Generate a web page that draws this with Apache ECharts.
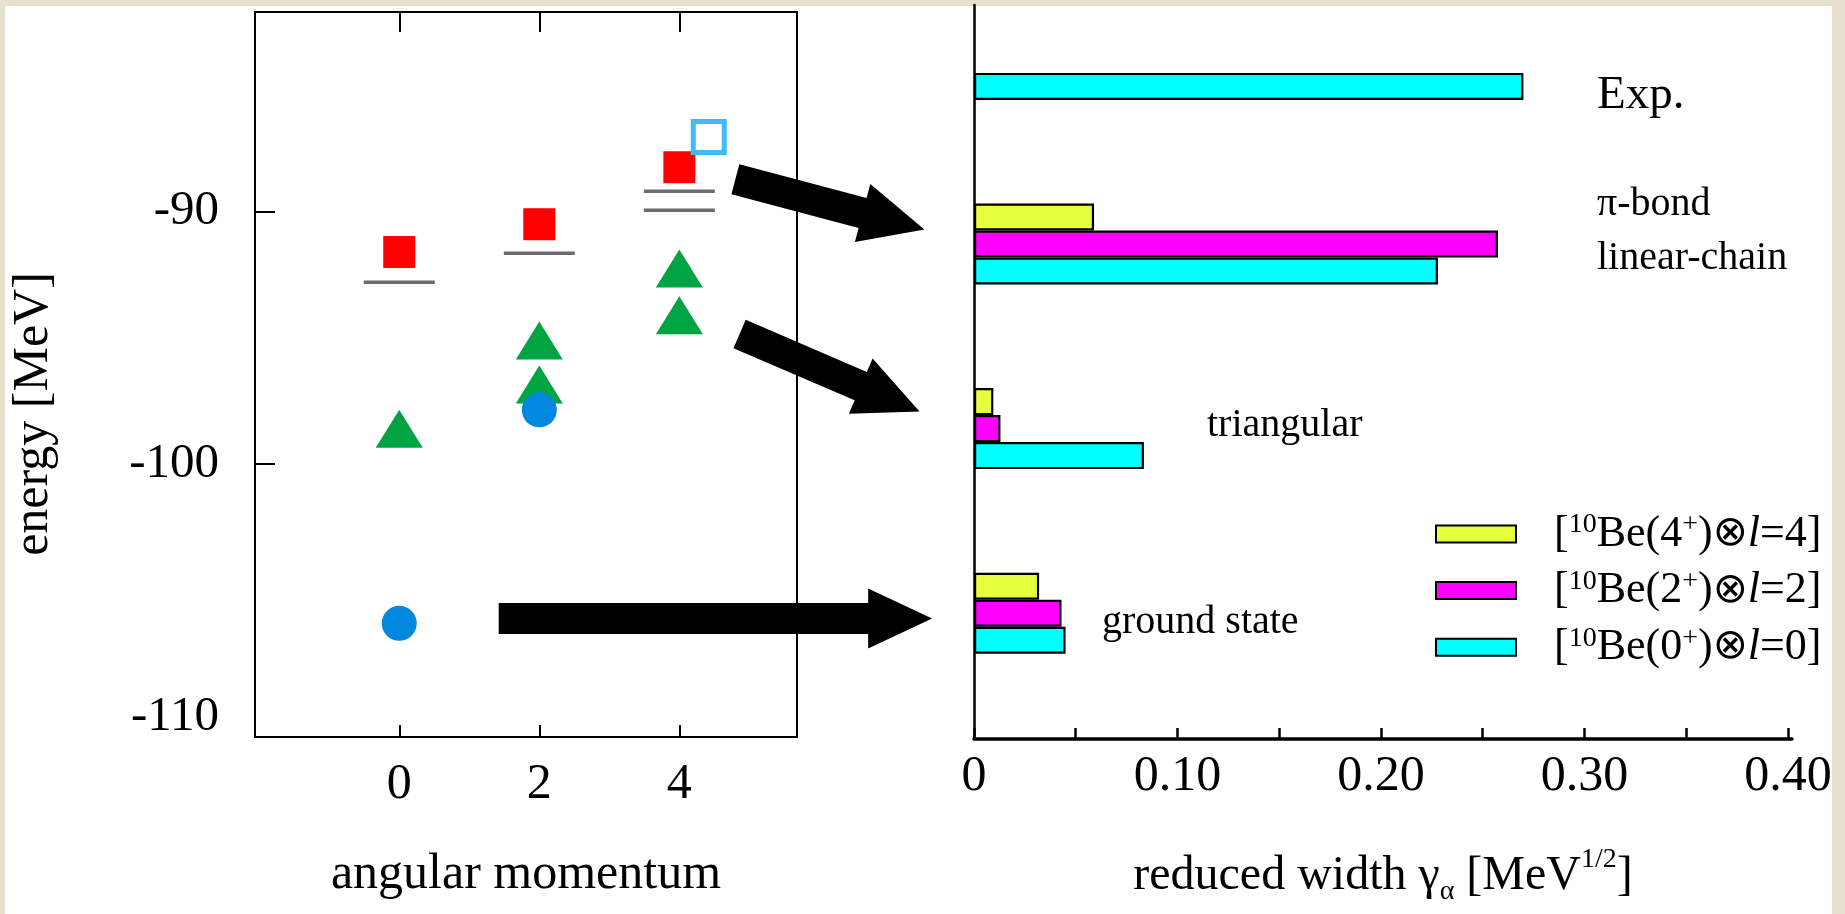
<!DOCTYPE html>
<html>
<head>
<meta charset="utf-8">
<title>Alpha reduced widths</title>
<script src="https://cdn.jsdelivr.net/npm/echarts@6/dist/echarts.min.js"></script>
<style>
  html, body { margin: 0; padding: 0; background: #e7dfcf; }
  #panel { position: absolute; left: 5px; top: 6px; width: 1827px; height: 908px; background: #ffffff; }
  #chart { position: absolute; left: 0; top: 0; width: 1845px; height: 914px; }
</style>
</head>
<body>
<div id="panel"></div>
<div id="chart"></div>
<script>
const FONT = '"Liberation Serif", "Times New Roman", Times, serif';

// ---- left panel: energy levels vs angular momentum ----
const energyTicks = [-110, -100, -90];
const energyMajorTicks = [-100, -90];
const momentumTicks = [0, 2, 4];

const linearChainL = [0, 2, 4];
const linearChainE = [-91.6, -90.5, -88.25];

const thresholdL = [0, 2, 4, 4];
const thresholdE = [-92.8, -91.65, -89.2, -89.95];

const triangularL = [0, 2, 2, 4, 4];
const triangularE = [-98.6, -95.1, -96.85, -92.25, -94.1];

const groundBandL = [0, 2];
const groundBandE = [-106.3, -97.85];

const experimentL = [4.42];
const experimentE = [-87.05];

// ---- right panel: reduced widths per state ----
const states = ['ground state', 'triangular', 'π-bond linear-chain', 'Exp.'];
const gammaL4 = [0.032, 0.0095, 0.059, null];
const gammaL2 = [0.043, 0.013, 0.2575, null];
const gammaL0 = [0.045, 0.0835, 0.228, 0.27];
const gammaLabelTicks = [0, 0.1, 0.2, 0.3, 0.4];
const gammaTicks = [0, 0.05, 0.1, 0.15, 0.2, 0.25, 0.3, 0.35, 0.4];

const channelNames = ['[10Be(4+)⊗l=4]', '[10Be(2+)⊗l=2]', '[10Be(0+)⊗l=0]'];
const channelRich = {
  '[10Be(4+)⊗l=4]': '{n|[}{s|10}{n|Be(4}{s|+}{n|)}{o|⊗}{i|l}{n|=4]}',
  '[10Be(2+)⊗l=2]': '{n|[}{s|10}{n|Be(2}{s|+}{n|)}{o|⊗}{i|l}{n|=2]}',
  '[10Be(0+)⊗l=0]': '{n|[}{s|10}{n|Be(0}{s|+}{n|)}{o|⊗}{i|l}{n|=0]}'
};

const zip = (xs, ys) => xs.map((x, i) => [x, ys[i]]);

const chart = echarts.init(document.getElementById('chart'), null, { renderer: 'canvas' });

const textBase = { fontFamily: FONT, color: '#000' };

const scatterBase = {
  type: 'scatter', xAxisIndex: 0, yAxisIndex: 0, silent: true,
  emphasis: { disabled: true }
};
const barBase = {
  type: 'bar', xAxisIndex: 3, yAxisIndex: 2, barWidth: 27, barGap: '0%', silent: true,
  clip: false, emphasis: { disabled: true }
};

chart.setOption({
  animation: false,
  backgroundColor: 'transparent',
  textStyle: { fontFamily: FONT },
  grid: [
    { left: 255, right: 1048, top: 12, bottom: 177, show: true, borderColor: '#000', borderWidth: 2, backgroundColor: 'transparent' },
    { left: 974, right: 53, top: 5, bottom: 175 },
    // state rows sit on the category ticks (boundaryGap off): top row = Exp., bottom row = ground state
    { left: 974, right: 53, top: 59.4, bottom: 300.8 }
  ],
  xAxis: [
    {
      gridIndex: 0, type: 'value', min: -2.06, max: 5.68, position: 'bottom',
      axisLine: { show: false, onZero: false },
      axisTick: { inside: true, length: 12, customValues: momentumTicks, lineStyle: { color: '#000', width: 2 } },
      axisLabel: { customValues: momentumTicks, margin: 23, fontSize: 50, ...textBase },
      splitLine: { show: false },
      name: 'angular momentum', nameLocation: 'middle', nameGap: 113,
      nameTextStyle: { fontSize: 50, ...textBase }
    },
    {
      gridIndex: 0, type: 'value', min: -2.06, max: 5.68, position: 'top',
      axisLine: { show: false, onZero: false },
      axisTick: { inside: true, length: 20, customValues: momentumTicks, lineStyle: { color: '#000', width: 2 } },
      axisLabel: { show: false },
      splitLine: { show: false }
    },
    {
      gridIndex: 1, type: 'value', min: 0, max: 0.402,
      axisLine: { show: true, onZero: false, lineStyle: { color: '#000', width: 3.5 } },
      axisTick: { inside: true, length: 11, customValues: gammaTicks, lineStyle: { color: '#000', width: 2.5 } },
      axisLabel: {
        customValues: gammaLabelTicks, margin: 13, fontSize: 50, ...textBase,
        formatter: v => (v === 0 ? '0' : v.toFixed(2))
      },
      splitLine: { show: false },
      name: '{n|reduced width γ}{sub|α}{n| [MeV}{sup|1/2}{n|]}',
      nameLocation: 'middle', nameGap: 107,
      nameTextStyle: {
        ...textBase,
        rich: {
          n: { fontSize: 48, lineHeight: 60, fontFamily: FONT, color: '#000' },
          sub: { fontSize: 28, lineHeight: 30, verticalAlign: 'bottom', fontFamily: FONT, color: '#000' },
          sup: { fontSize: 28, lineHeight: 34, verticalAlign: 'top', fontFamily: FONT, color: '#000' }
        }
      }
    },
    {
      gridIndex: 2, type: 'value', min: 0, max: 0.402, show: false
    }
  ],
  yAxis: [
    {
      gridIndex: 0, type: 'value', min: -110.8, max: -82.1,
      axisLine: { show: false, onZero: false },
      axisTick: { inside: true, length: 20, customValues: energyMajorTicks, lineStyle: { color: '#000', width: 2 } },
      axisLabel: { customValues: energyTicks, margin: 36, fontSize: 49, ...textBase },
      splitLine: { show: false },
      name: 'energy [MeV]', nameLocation: 'middle', nameGap: 196,
      nameTextStyle: { fontSize: 50, ...textBase, padding: [0, 79, 0, 0] }
    },
    {
      gridIndex: 1, type: 'value', min: 0, max: 1,
      axisLine: { show: true, onZero: false, lineStyle: { color: '#000', width: 2.5 } },
      axisTick: { show: false }, axisLabel: { show: false }, splitLine: { show: false }
    },
    {
      gridIndex: 2, type: 'category', data: states, boundaryGap: false, show: false
    }
  ],
  legend: {
    data: channelNames,
    orient: 'vertical', left: 1430, top: 506,
    itemWidth: 80, itemHeight: 17, itemGap: 11.6,
    icon: 'rect', selectedMode: false,
    formatter: name => channelRich[name],
    textStyle: {
      ...textBase, fontSize: 44, padding: [0, 0, 0, 33],
      rich: {
        n: { fontSize: 44, lineHeight: 46, fontFamily: FONT, color: '#000' },
        s: { fontSize: 28, lineHeight: 32, verticalAlign: 'top', fontFamily: FONT, color: '#000' },
        i: { fontSize: 44, lineHeight: 46, fontStyle: 'italic', fontFamily: FONT, color: '#000' },
        o: { fontSize: 42, lineHeight: 46, fontFamily: '"DejaVu Sans", sans-serif', color: '#000' }
      }
    }
  },
  series: [
    {
      ...scatterBase, name: 'thresholds', data: zip(thresholdL, thresholdE),
      symbol: 'rect', symbolSize: [71, 3.5], itemStyle: { color: '#6b6b6b', opacity: 1 }
    },
    {
      ...scatterBase, name: 'linear chain', data: zip(linearChainL, linearChainE),
      symbol: 'rect', symbolSize: 32, itemStyle: { color: '#ff0000', opacity: 1 }
    },
    {
      ...scatterBase, name: 'triangular', data: zip(triangularL, triangularE),
      symbol: 'triangle', symbolSize: [47, 38], itemStyle: { color: '#00a443', opacity: 1 }
    },
    {
      ...scatterBase, name: 'ground band', data: zip(groundBandL, groundBandE),
      symbol: 'circle', symbolSize: 35, itemStyle: { color: '#0088df', opacity: 1 }
    },
    {
      ...scatterBase, name: 'experiment', data: zip(experimentL, experimentE),
      symbol: 'rect', symbolSize: 31, itemStyle: { color: '#ffffff', borderColor: '#42b9fb', borderWidth: 5, opacity: 1 }
    },
    {
      ...barBase, name: channelNames[0], data: gammaL4,
      itemStyle: { color: '#e6ff3c', borderColor: '#000', borderWidth: 2.2 }
    },
    {
      ...barBase, name: channelNames[1], data: gammaL2,
      itemStyle: { color: '#ff00ff', borderColor: '#000', borderWidth: 2.2 }
    },
    {
      ...barBase, name: channelNames[2], data: gammaL0,
      itemStyle: { color: '#00ffff', borderColor: '#000', borderWidth: 2.2 }
    }
  ]
});

// arrows linking the left-panel states to their reduced widths,
// anchored in the (angular momentum, energy) frame of the left panel
function arrowPoints(p0, p1, shaft, headW, headL) {
  const dx = p1[0] - p0[0], dy = p1[1] - p0[1];
  const len = Math.hypot(dx, dy);
  const ux = dx / len, uy = dy / len, nx = -uy, ny = ux;
  const bx = p1[0] - ux * headL, by = p1[1] - uy * headL;
  const off = (x, y, s) => [x + nx * s, y + ny * s];
  return [
    off(p0[0], p0[1], shaft / 2), off(bx, by, shaft / 2), off(bx, by, headW / 2),
    p1,
    off(bx, by, -headW / 2), off(bx, by, -shaft / 2), off(p0[0], p0[1], -shaft / 2)
  ];
}
const arrowEnds = [
  [[4.80, -88.72], [7.50, -90.71]],
  [[4.86, -94.85], [7.43, -97.91]],
  [[1.42, -106.11], [7.61, -106.11]]
];
const toPx = p => chart.convertToPixel({ gridIndex: 0 }, p);

const stateLabel = (text, x, y, size, extra) => ({
  type: 'text', x, y, silent: true, z: 50,
  style: Object.assign({ text, fontSize: size, fontFamily: FONT, fill: '#000', align: 'left', verticalAlign: 'middle' }, extra || {})
});

chart.setOption({
  graphic: [
    ...arrowEnds.map(([a, b]) => ({
      type: 'polygon', silent: true, z: 40,
      shape: { points: arrowPoints(toPx(a), toPx(b), 31, 60, 64) },
      style: { fill: '#000' }
    })),
    stateLabel('Exp.', 1597, 96, 47),
    stateLabel('π-bond\nlinear-chain', 1597, 231, 40, { lineHeight: 54 }),
    stateLabel('triangular', 1207, 425, 40),
    stateLabel('ground state', 1102, 622, 40)
  ]
});
</script>
</body>
</html>
